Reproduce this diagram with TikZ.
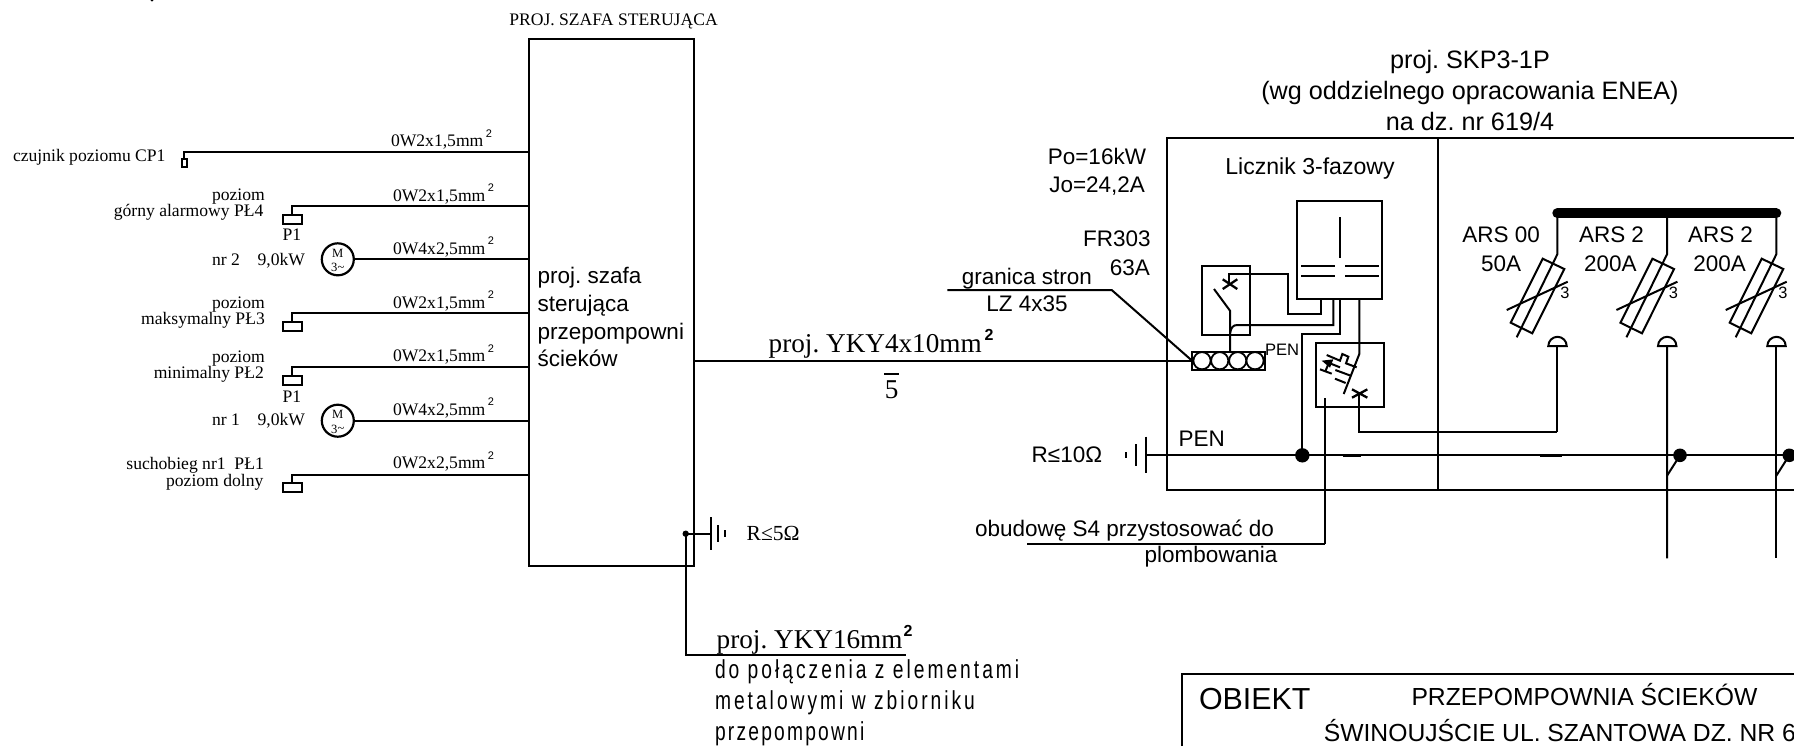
\documentclass[tikz,border=0pt]{standalone}
\usepackage{fontspec}
\setmainfont{Liberation Serif}
\setsansfont{Liberation Sans}
\newfontfamily\isof[FakeStretch=0.74,LetterSpace=11.5]{Liberation Sans}
\newfontfamily\isog[FakeStretch=0.74,LetterSpace=8.5]{Liberation Sans}
\tikzset{
  w/.style={line width=1.15pt,line join=miter},
  t/.style={line width=1pt},
  lab/.style={inner sep=0,outer sep=0},
  ser/.style={lab,font=\fontsize{8.8pt}{10pt}\selectfont},
  serm/.style={lab,font=\fontsize{10.75pt}{12pt}\selectfont},
  serb/.style={lab,font=\fontsize{13.6pt}{15pt}\selectfont},
  sa/.style={lab,font=\sffamily\fontsize{11.25pt}{13pt}\selectfont},
  sal/.style={lab,font=\sffamily\fontsize{11.55pt}{13pt}\selectfont},
  sah/.style={lab,font=\sffamily\fontsize{12.6pt}{14pt}\selectfont},
  sup/.style={lab,font=\sffamily\fontsize{5.5pt}{6pt}\selectfont},
  supb/.style={lab,font=\sffamily\bfseries\fontsize{8pt}{9pt}\selectfont},
  iso/.style={lab,font=\isof\fontsize{13pt}{15pt}\selectfont},
  isoshort/.style={lab,font=\isog\fontsize{13pt}{15pt}\selectfont},
  sensor/.style={draw,line width=1pt,inner sep=0,outer sep=0,minimum width=9.5pt,minimum height=4.5pt},
  motor/.style={draw,circle,line width=1.1pt,inner sep=0,outer sep=0,minimum size=16pt},
  frame/.style={draw,line width=1pt,inner sep=0,outer sep=0,anchor=north west},
  fuselabel/.style={sa}
}
\newcommand{\fusegroup}[3]{%
  \begin{scope}[shift={(#1,0)}]
    \coordinate (b#2) at (1557.3,213.3);
    \coordinate (k#2) at (1557.3,254.3);
    \draw[t] (b#2) -- (k#2) -- (1516.7,337.3);
    \draw[t] (1542.7,258.7) -- (1564.3,269) -- (1532.3,333.3) -- (1510.7,322.7) -- cycle;
    \draw[t] (1506.7,310) -- (1567.7,281.7);
    \node[lab,font=\sffamily\fontsize{8.2pt}{9pt}\selectfont] (n#2) at (#3,292.7) {3};
    \coordinate (s#2) at (1557.3,346);
    \draw[t] (1548.3,346) arc (180:0:4.6pt) -- cycle;
  \end{scope}}
\begin{document}
\frenchspacing
\begin{tikzpicture}[x=0.5pt,y=-0.5pt]
\useasboundingbox (0,0) rectangle (1794,746);
\clip (0,0) rectangle (1794,746);
% tiny mark at top
\fill (152,0) circle (.8pt);
% cabinet
\node[frame,minimum width=82.2pt,minimum height=263.4pt] (szafa) at (529.3,39.3) {};
\node[ser,anchor=base west] (tszafa) at (509.3,25) {PROJ. SZAFA STERUJĄCA};
\node[sa,anchor=base west] (p1) at (537.7,283.3) {proj. szafa};
\node[sa,anchor=base west] (p2) at (537.7,311) {sterująca};
\node[sa,anchor=base west] (p3) at (537.7,339.3) {przepompowni};
\node[sa,anchor=base west] (p4) at (537.7,366.7) {ścieków};
% wire ends on cabinet
\coordinate (w1) at (szafa.west |- 0,152);
\coordinate (w2) at (szafa.west |- 0,206);
\coordinate (w3) at (szafa.west |- 0,259.3);
\coordinate (w4) at (szafa.west |- 0,313);
\coordinate (w5) at (szafa.west |- 0,367);
\coordinate (w6) at (szafa.west |- 0,420.7);
\coordinate (w7) at (szafa.west |- 0,474.7);
% sensors
\node[sensor,minimum width=2.7pt,minimum height=4pt] (cp1) at (184.2,162.7) {};
\node[sensor] (pl4) at (292,219.2) {};
\node[sensor] (pl3) at (292,326.2) {};
\node[sensor] (pl2) at (292,380.2) {};
\node[sensor] (pl1) at (292,487.9) {};
\node[motor] (m2) at (337.8,259.3) {};
\node[motor] (m1) at (337.8,420.7) {};
\draw[w] (cp1.north) |- (w1);
\draw[w] (pl4.north) |- (w2);
\draw[w] (m2.east) -- (w3);
\draw[w] (pl3.north) |- (w4);
\draw[w] (pl2.north) |- (w5);
\draw[w] (m1.east) -- (w6);
\draw[w] (pl1.north) |- (w7);
% motor text
\node[lab,font=\fontsize{6.3pt}{7pt}\selectfont,anchor=base] (m2a) at (337.8,257) {M};
\node[lab,font=\fontsize{6.3pt}{7pt}\selectfont,anchor=base] (m2b) at (337.8,271.7) {3\raisebox{.1ex}{\textasciitilde}};
\node[lab,font=\fontsize{6.3pt}{7pt}\selectfont,anchor=base] (m1a) at (337.8,418.4) {M};
\node[lab,font=\fontsize{6.3pt}{7pt}\selectfont,anchor=base] (m1b) at (337.8,433.1) {3\raisebox{.1ex}{\textasciitilde}};
% wire labels
\node[ser,anchor=base west] (l1) at (391,146) {0W2x1,5mm};
\node[sup] (l1s) at (489,133.5) {2};
\node[ser,anchor=base west] (l2) at (393,201) {0W2x1,5mm};
\node[sup] (l2s) at (491,187.5) {2};
\node[ser,anchor=base west] (l3) at (393,254.3) {0W4x2,5mm};
\node[sup] (l3s) at (491,240.8) {2};
\node[ser,anchor=base west] (l4) at (393,308) {0W2x1,5mm};
\node[sup] (l4s) at (491,294.5) {2};
\node[ser,anchor=base west] (l5) at (393,361.3) {0W2x1,5mm};
\node[sup] (l5s) at (491,348.5) {2};
\node[ser,anchor=base west] (l6) at (393,415) {0W4x2,5mm};
\node[sup] (l6s) at (491,402) {2};
\node[ser,anchor=base west] (l7) at (393,468.7) {0W2x2,5mm};
\node[sup] (l7s) at (491,455.7) {2};
% left texts
\node[ser,anchor=base west] (a1) at (13,161.3) {czujnik poziomu CP1};
\node[ser,anchor=base east] (a2) at (264.8,200) {poziom};
\node[ser,anchor=base east] (a3) at (263.4,216) {górny alarmowy PŁ4};
\node[ser,anchor=base] (a4) at (292,240) {P1};
\node[ser,anchor=base east] (a5) at (240,265.3) {nr 2};
\node[ser,anchor=base east] (a6) at (305,265.3) {9,0kW};
\node[ser,anchor=base east] (a7) at (264.8,308.3) {poziom};
\node[ser,anchor=base east] (a8) at (264.8,324) {maksymalny PŁ3};
\node[ser,anchor=base east] (a9) at (264.8,362.3) {poziom};
\node[ser,anchor=base east] (a10) at (263.8,378.3) {minimalny PŁ2};
\node[ser,anchor=base] (a11) at (292,402) {P1};
\node[ser,anchor=base east] (a12) at (240,425.7) {nr 1};
\node[ser,anchor=base east] (a13) at (305,425.7) {9,0kW};
\node[ser,anchor=base east] (a14) at (263.8,469.3) {suchobieg nr1\ \ PŁ1};
\node[ser,anchor=base east] (a15) at (263.4,486) {poziom dolny};
% earth of cabinet
\coordinate (gd) at (685.7,533.7);
\coordinate (ge1) at (710.7,533.7);
\coordinate (gk) at (685.7,655);
\coordinate (ge2) at (906,655);
\fill (gd) circle (1.6pt);
\draw[w] (gd) -- (ge1);
\draw[w] (gd) -- (gk) -- (ge2);
\draw[w] (710.7,517.3) -- (710.7,550);
\draw[t] (718.3,525) -- (718.3,542.3);
\draw[w] (725.3,530) -- (725.3,537.3);
\node[serm,anchor=base west] (r5) at (746.7,540) {R≤5Ω};
\node[serb,anchor=base west] (y16) at (716.7,648.3) {proj. YKY16mm};
\node[supb] (y16s) at (908,631) {2};
\node[iso,anchor=base west] (i1) at (715,678.3) {do połączenia z elementami};
\node[iso,anchor=base west] (i2) at (715,709) {metalowymi w zbiorniku};
\node[isoshort,anchor=base west] (i3) at (715,740) {przepompowni};
% SKP header
\node[sah,anchor=base] (h1) at (1470,68.3) {proj. SKP3-1P};
\node[sah,anchor=base] (h2) at (1470,99.3) {(wg oddzielnego opracowania ENEA)};
\node[sah,anchor=base] (h3) at (1470,130) {na dz. nr 619/4};
% enclosure
\coordinate (eTL) at (1166.7,138);
\coordinate (eBL) at (1166.7,490.3);
\draw[t] (1794,138) -- (eTL) -- (eBL) -- (1794,490.3);
\draw[t] (1437.7,138) -- (1437.7,490.3);
\node[sal,anchor=base] (lic) at (1310,174) {Licznik 3-fazowy};
% left notes
\node[sa,anchor=base east] (po) at (1146,164) {Po=16kW};
\node[sa,anchor=base east] (jo) at (1145,192.3) {Jo=24,2A};
\node[sa,anchor=base east] (fr) at (1150.7,246.7) {FR303};
\node[sa,anchor=base east] (a63) at (1150,275) {63A};
\node[sa,anchor=base] (gr) at (1027,284.3) {granica stron};
\node[sa,anchor=base] (lz) at (1027,311.7) {LZ 4x35};
% terminal bar
\node[frame,minimum width=36.2pt,minimum height=9.2pt,line width=1.1pt] (bar) at (1192.3,351.7) {};
\foreach \i/\x in {1/1202,2/1219.7,3/1237.7,4/1255}
  \node[draw,circle,line width=.9pt,inner sep=0,outer sep=0,minimum size=8.6pt] (c\i) at (\x,360.7) {};
\node[lab,font=\sffamily\fontsize{8.3pt}{9pt}\selectfont,anchor=base west] (pens) at (1265,355) {PEN};
\draw[w] (szafa.east |- bar.west) -- (bar.west);
\coordinate (gs) at (947.3,290);
\coordinate (gk2) at (1111.7,290);
\draw[t] (gs) -- (gk2) -- (bar.west);
\node[serb,anchor=base west] (yky) at (768.7,352.7) {proj. YKY4x10mm};
\node[supb] (ykys) at (989,334.5) {2};
\node[serb,anchor=base] (five) at (891.7,398) {5};
\draw[line width=.7pt] (884,374) -- (899.3,374);
% meter
\node[frame,minimum width=42.5pt,minimum height=48.85pt] (meter) at (1297.3,201) {};
\draw[t] (1340,217) -- (1340,258.3);
\draw[t] (1301.3,265.7) -- (1335,265.7) (1345,265.7) -- (1378.7,265.7);
\draw[t] (1301.3,276.3) -- (1335,276.3) (1345,276.3) -- (1378.7,276.3);
% FR303 box
\node[frame,minimum width=23.85pt,minimum height=34.65pt] (frb) at (1202,266) {};
\draw[w] (1222.7,279.3) -- (1237.3,289);
\draw[w] (1222.7,289) -- (1237.3,279.3);
\draw[t] (1229.3,284) -- (1229.3,273.7) -- (1288.3,273.7) -- (1288.3,314.3) -- (1320.7,314.3) -- (1320.7,298.7);
\draw[t] (1214,289) -- (1230,310.7) -- (1230,351.7);
\draw[t] (1230,333.3) .. controls (1231,327.5) and (1233,325) .. (1237.3,325) -- (1333.3,325) -- (1333.3,298.7);
% PEN bus
\coordinate (pd) at (1302.3,455.3);
\draw[t] (1340,298.7) -- (1340,334) -- (1302.3,334) -- (pd);
\draw[t] (1145.7,455.3) -- (1794,455.3);
\draw[line width=1.3pt] (1343,455.3) -- (1361,455.3) (1540,455.3) -- (1561.7,455.3);
\fill (pd) circle (3.6pt);
\draw[t] (1145.7,436.7) -- (1145.7,473.3);
\draw[t] (1135.7,444) -- (1135.7,465.7);
\draw[w] (1125.7,452.3) -- (1125.7,458.3);
\node[sa,anchor=base west] (rten) at (1031.7,462.7) {R≤10Ω};
\node[sa,anchor=base west] (penb) at (1178.7,446.7) {PEN};
% lower switch
\node[frame,minimum width=34.15pt,minimum height=32.3pt] (sw) at (1315.7,342.7) {};
\draw[t] (1359.3,298.7) -- (1359.3,354) -- (1343.7,394);
\begin{scope}[shift={(1140,330)},x=.16667pt,y=-.16667pt]
  \draw[w] (636,178) -- (682,203) (636,203) -- (682,178);
  \draw[t] (560,75) -- (600,92) -- (607,72) -- (625,80) -- (618,100) -- (650,112);
  \draw[t] (586,120) -- (632,137);
  \draw[t] (585,146) -- (617,159);
  \draw[t] (540,118) -- (575,131);
  \draw[t] (556,124) -- (566,100);
  \fill (545,92) -- (580,88) -- (570,113) -- cycle;
  \draw[t] (570,100) -- (600,112);
\end{scope}
% feeders
\coordinate (xw) at (1359.3,393.3);
\coordinate (xk) at (1359.3,432.3);
\draw[t] (xw) -- (xk) -- (1557.3,432.3);
\coordinate (sv) at (1324.7,398.3);
\coordinate (sk) at (1324.7,543.7);
\coordinate (se) at (1027.3,543.7);
\draw[t] (sv) -- (sk);
\draw[w] (sk) -- (se);
\node[sa,anchor=base west] (ob) at (975,536) {obudowę S4 przystosować do};
\node[sa,anchor=base east] (pl) at (1277.3,562) {plombowania};
% bus and fuses
\fusegroup{0}{1}{1565}
\fusegroup{109.7}{2}{1563.6}
\fusegroup{219}{3}{1564}
\draw[line width=5pt,line cap=round] (b1) -- (b3);
\node[fuselabel,anchor=base] (ars1) at (1501.2,242.7) {ARS 00};
\node[fuselabel,anchor=base] (amp1) at (1501,271) {50A};
\node[fuselabel,anchor=base] (ars2) at (1611.5,242.7) {ARS 2};
\node[fuselabel,anchor=base] (amp2) at (1610.4,271) {200A};
\node[fuselabel,anchor=base] (ars3) at (1720.5,242.7) {ARS 2};
\node[fuselabel,anchor=base] (amp3) at (1719.7,271) {200A};
% outgoing
\draw[t] (s1) -- (1557.3,432.3);
\coordinate (o2) at (1667,558.3);
\coordinate (o3) at (1776.3,558.3);
\draw[t] (s2) -- (o2);
\draw[t] (s3) -- (o3);
\coordinate (d2) at (1680,455.3);
\coordinate (d3) at (1789.3,455.3);
\fill (d2) circle (3.4pt) (d3) circle (3.4pt);
\draw[t] (1667,475.7) -- (d2);
\draw[t] (1776.3,475.7) -- (d3);
% title block
\draw[line width=1pt] (1182.2,746) -- (1182.2,674) -- (1794,674);
\node[lab,font=\sffamily\fontsize{15.2pt}{17pt}\selectfont,anchor=base west] (obj) at (1199,709.3) {OBIEKT};
\node[lab,font=\sffamily\fontsize{12.35pt}{14pt}\selectfont,anchor=base west] (tt1) at (1411.5,705) {PRZEPOMPOWNIA ŚCIEKÓW};
\node[lab,font=\sffamily\fontsize{12.35pt}{14pt}\selectfont,anchor=base west] (tt2) at (1323.8,741.7) {ŚWINOUJŚCIE UL. SZANTOWA DZ. NR 6};
\end{tikzpicture}
\end{document}
